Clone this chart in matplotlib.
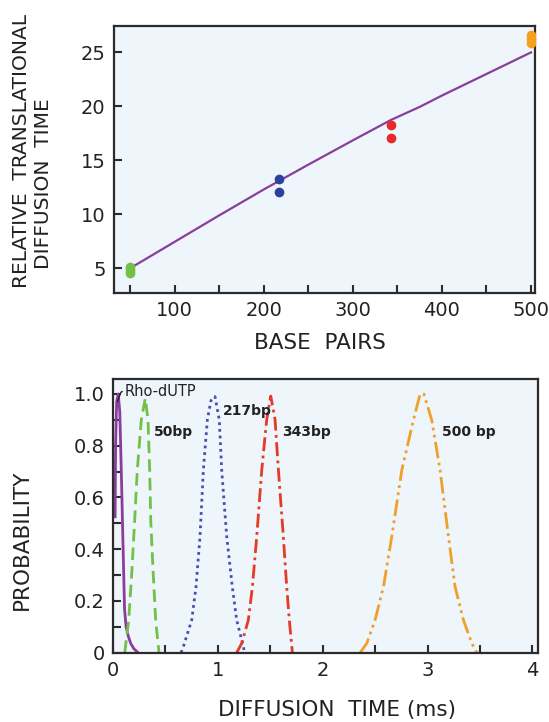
import matplotlib
matplotlib.use("Agg")
import matplotlib.pyplot as plt

# ---------------- data: top panel ----------------
bp_green = [50, 50, 50]
t_green = [5.15, 4.85, 4.55]
bp_blue = [217, 217]
t_blue = [13.3, 12.05]
bp_red = [343, 343]
t_red = [18.25, 17.1]
bp_orange = [500, 500, 500]
t_orange = [26.6, 26.2, 25.9]

fit_bp = [50, 100, 150, 200, 250, 300, 343, 375, 400, 450, 500]
fit_t = [5.0, 7.45, 9.9, 12.3, 14.6, 16.85, 18.75, 19.95, 21.0, 23.0, 25.0]

top_xticks = [50, 100, 150, 200, 250, 300, 350, 400, 450, 500]
top_xlabels = ["", "100", "", "200", "", "300", "", "400", "", "500"]
top_yticks = [5, 10, 15, 20, 25]

# ---------------- data: bottom panel ----------------
rho_x = [0.02, 0.025, 0.035, 0.05, 0.065, 0.08, 0.095, 0.11, 0.125, 0.145, 0.17, 0.2, 0.24]
rho_y = [0.52, 0.8, 0.97, 1.0, 0.93, 0.69, 0.43, 0.17, 0.10, 0.065, 0.035, 0.015, 0.0]

bp50_x = [0.112, 0.15, 0.181, 0.207, 0.232, 0.27, 0.308, 0.334, 0.35, 0.36, 0.382, 0.407, 0.439]
bp50_y = [0.0, 0.126, 0.32, 0.513, 0.706, 0.9, 0.983, 0.9, 0.706, 0.513, 0.32, 0.126, 0.0]

bp217_x = [0.649, 0.671, 0.751, 0.792, 0.83, 0.862, 0.90, 0.935, 0.973, 1.014, 1.037, 1.085, 1.138, 1.18, 1.244, 1.255]
bp217_y = [0.0, 0.023, 0.126, 0.255, 0.448, 0.706, 0.9, 0.975, 0.99, 0.9, 0.706, 0.448, 0.255, 0.126, 0.023, 0.0]

bp343_x = [1.18, 1.228, 1.291, 1.33, 1.371, 1.419, 1.466, 1.505, 1.546, 1.578, 1.625, 1.657, 1.682, 1.711]
bp343_y = [0.0, 0.036, 0.126, 0.255, 0.448, 0.706, 0.9, 0.992, 0.9, 0.706, 0.448, 0.255, 0.126, 0.0]

bp500_x = [2.357, 2.421, 2.50, 2.58, 2.659, 2.755, 2.866, 2.93, 2.965, 3.04, 3.12, 3.20, 3.263, 3.343, 3.423, 3.47]
bp500_y = [0.0, 0.036, 0.126, 0.255, 0.448, 0.706, 0.9, 1.0, 1.0, 0.9, 0.706, 0.448, 0.255, 0.126, 0.036, 0.0]

bot_xticks = [0, 0.5, 1, 1.5, 2, 2.5, 3, 3.5, 4]
bot_xlabels = ["0", "", "1", "", "2", "", "3", "", "4"]
bot_yticks = [0, 0.1, 0.2, 0.3, 0.4, 0.5, 0.6, 0.7, 0.8, 0.9, 1.0]
bot_ylabels = ["0", "", "0.2", "", "0.4", "", "0.6", "", "0.8", "", "1.0"]

# ---------------- style ----------------
BG = "#eef5fb"
SPINE = "#2b2b2b"
GREEN = "#72c045"
BLUE = "#2f3f9c"
RED = "#e8292b"
ORANGE = "#f4a21d"
PURPLE = "#8a3d9c"
BLUE2 = "#4a4db3"
RED2 = "#e53a26"
ORANGE2 = "#f0a02a"

plt.rcParams["font.family"] = ["DejaVu Sans"]

fig = plt.figure(figsize=(5.49, 7.22), dpi=100)
fig.patch.set_facecolor("white")


def style_axes(ax):
    ax.set_facecolor(BG)
    for s in ax.spines.values():
        s.set_linewidth(1.6)
        s.set_color(SPINE)
    ax.tick_params(direction="in", length=5.5, width=1.5, color=SPINE,
                   labelsize=14, pad=6, labelcolor="#222222")


# ---------------- top axes ----------------
ax1 = fig.add_axes([0.2077, 0.5946, 0.7668, 0.3687])
style_axes(ax1)
ax1.plot(fit_bp, fit_t, color=PURPLE, lw=1.6, zorder=2)
ms = 7
ax1.plot(bp_green, t_green, "o", color=GREEN, ms=ms, mec="none", zorder=3)
ax1.plot(bp_blue, t_blue, "o", color=BLUE, ms=ms, mec="none", zorder=3)
ax1.plot(bp_red, t_red, "o", color=RED, ms=ms, mec="none", zorder=3)
ax1.plot(bp_orange, t_orange, "o", color=ORANGE, ms=ms, mec="none", zorder=3, clip_on=False)
ax1.set_xlim(32, 504.5)
ax1.set_ylim(2.74, 27.4)
ax1.set_xticks(top_xticks)
ax1.set_xticklabels(top_xlabels)
ax1.set_yticks(top_yticks)

fig.text(320 / 549, 1 - 343 / 722, "BASE  PAIRS", ha="center", va="center",
         fontsize=15.5, color="#222222")
fig.text(22 / 549, 1 - 151 / 722, "RELATIVE  TRANSLATIONAL", ha="center", va="center",
         rotation=90, fontsize=14.5, color="#222222")
fig.text(44 / 549, 1 - 184 / 722, "DIFFUSION  TIME", ha="center", va="center",
         rotation=90, fontsize=14.5, color="#222222")

# ---------------- bottom axes ----------------
ax2 = fig.add_axes([0.2058, 0.0960, 0.7734, 0.3791])
style_axes(ax2)
lw = 2.0
ax2.plot(rho_x, rho_y, color=PURPLE, lw=lw, solid_capstyle="butt")
ax2.plot(bp50_x, bp50_y, color=GREEN, lw=lw, linestyle=(0, (4.5, 2.2)))
ax2.plot(bp217_x, bp217_y, color=BLUE2, lw=lw, linestyle=(0, (1.0, 1.4)))
ax2.plot(bp343_x, bp343_y, color=RED2, lw=lw, linestyle=(0, (5, 1.6, 1, 1.6)))
ax2.plot(bp500_x, bp500_y, color=ORANGE2, lw=lw, linestyle=(0, (6, 1.6, 1, 1.6, 1, 1.6)))
ax2.set_xlim(0, 4.05)
ax2.set_ylim(0, 1.058)
ax2.set_xticks(bot_xticks)
ax2.set_xticklabels(bot_xlabels)
ax2.set_yticks(bot_yticks)
ax2.set_yticklabels(bot_ylabels)

ax2.annotate("Rho-dUTP", xy=(0.042, 0.97), xytext=(0.115, 1.01),
             ha="left", va="center", fontsize=10.5, color="#222222",
             arrowprops=dict(arrowstyle="-", color="#222222", lw=1.0,
                             shrinkA=0, shrinkB=0,
                             connectionstyle="angle,angleA=0,angleB=70,rad=2"))
lab_kw = dict(ha="left", va="center", fontsize=10, fontweight="bold", color="#222222")
ax2.text(0.39, 0.854, "50bp", **lab_kw)
ax2.text(1.047, 0.935, "217bp", **lab_kw)
ax2.text(1.616, 0.853, "343bp", **lab_kw)
ax2.text(3.136, 0.854, "500 bp", **lab_kw)

fig.text(337 / 549, 1 - 710 / 722, "DIFFUSION  TIME (ms)", ha="center", va="center",
         fontsize=15.5, color="#222222")
fig.text(22 / 549, 1 - 540 / 722, "PROBABILITY", ha="center", va="center",
         rotation=90, fontsize=15.5, color="#222222")

fig.savefig("out.png", dpi=100)
